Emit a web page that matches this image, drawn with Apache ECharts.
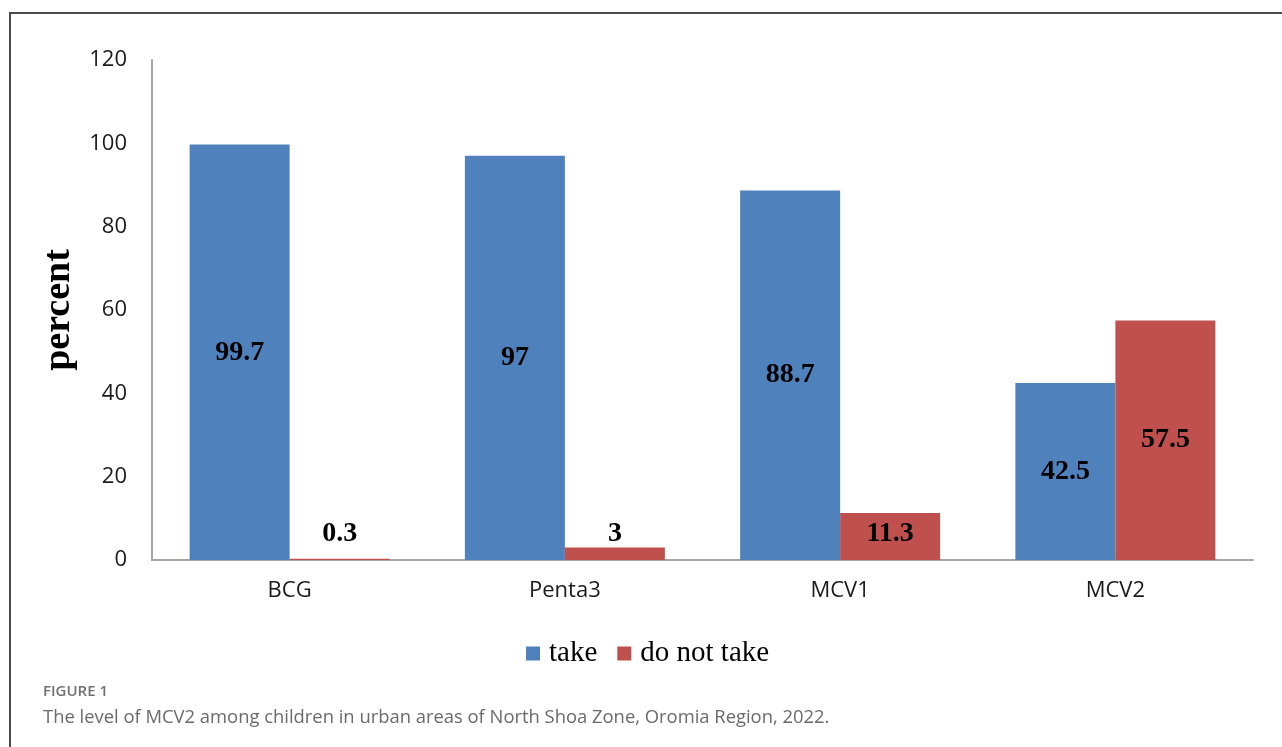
<!DOCTYPE html>
<html>
<head>
<meta charset="utf-8">
<script src="https://cdn.jsdelivr.net/npm/echarts@6/dist/echarts.min.js"></script>
<style>
  html, body { margin: 0; padding: 0; background: #fff; }
  #wrap { position: relative; width: 1282px; height: 747px; overflow: hidden; }
  #chart { position: absolute; left: 0; top: 0; width: 1282px; height: 747px; }
  .frame { position: absolute; left: 9px; top: 12px; width: 1300px; height: 800px;
           border-top: 2px solid #4a4a4a; border-left: 2px solid #4a4a4a; box-sizing: border-box; }
  .fig { position: absolute; left: 43px; top: 680px; font-family: "Open Sans", sans-serif;
         font-size: 15px; font-weight: 600; color: #707070; }
  .cap { position: absolute; left: 43px; top: 703px; font-family: "Open Sans", sans-serif;
         font-size: 18.4px; color: #6a6a6a; }
</style>
</head>
<body>
<div id="wrap">
  <div id="chart"></div>
  <div class="frame"></div>
  <div class="fig">FIGURE 1</div>
  <div class="cap">The level of MCV2 among children in urban areas of North Shoa Zone, Oromia Region, 2022.</div>
</div>
<script>
const categories = ["BCG", "Penta3", "MCV1", "MCV2"];
const takeValues = [99.7, 97, 88.7, 42.5];
const notTakeValues = [0.3, 3, 11.3, 57.5];

const chart = echarts.init(document.getElementById("chart"));

const labelFont = {
  color: "#000",
  fontFamily: "Liberation Serif, Times New Roman, serif",
  fontWeight: "bold",
  fontSize: 28,
};

const option = {
  animation: false,
  grid: {
    left: 152,
    right: 29,
    top: 60,
    bottom: 187,
    containLabel: false,
  },
  legend: {
    left: 521,
    top: 634,
    itemWidth: 14,
    itemHeight: 14,
    itemGap: 20,
    icon: "rect",
    textStyle: {
      color: "#000",
      fontFamily: "Liberation Serif, Times New Roman, serif",
      fontSize: 29,
      padding: [0, 0, 0, 4],
    },
    data: ["take", "do not take"],
  },
  xAxis: {
    type: "category",
    data: categories,
    axisLine: { lineStyle: { color: "#a6a6a6", width: 2 } },
    axisTick: { show: false },
    axisLabel: {
      color: "#1a1a1a",
      fontFamily: "Open Sans, sans-serif",
      fontSize: 22,
      margin: 20,
    },
  },
  yAxis: {
    type: "value",
    min: 0,
    max: 120,
    interval: 20,
    name: "percent",
    nameLocation: "middle",
    nameGap: 74,
    nameRotate: 90,
    nameTextStyle: {
      color: "#000",
      fontFamily: "Liberation Serif, Times New Roman, serif",
      fontWeight: "bold",
      fontSize: 38,
    },
    axisLine: { show: true, lineStyle: { color: "#a6a6a6", width: 2 } },
    axisTick: { show: false },
    splitLine: { show: false },
    axisLabel: {
      color: "#1a1a1a",
      fontFamily: "Open Sans, sans-serif",
      fontSize: 22,
      margin: 25,
    },
  },
  series: [
    {
      name: "take",
      type: "bar",
      barWidth: 100,
      barGap: "0%",
      itemStyle: { color: "#4f81bd" },
      label: Object.assign({ show: true, position: "inside" }, labelFont),
      data: takeValues,
    },
    {
      name: "do not take",
      type: "bar",
      barWidth: 100,
      barGap: "0%",
      itemStyle: { color: "#c0504d" },
      data: notTakeValues.map((v) => ({
        value: v,
        label: Object.assign(
          { show: true, position: v < 20 ? "insideBottom" : "inside", distance: 12 },
          labelFont
        ),
      })),
    },
  ],
};

option && chart.setOption(option);
</script>
</body>
</html>
